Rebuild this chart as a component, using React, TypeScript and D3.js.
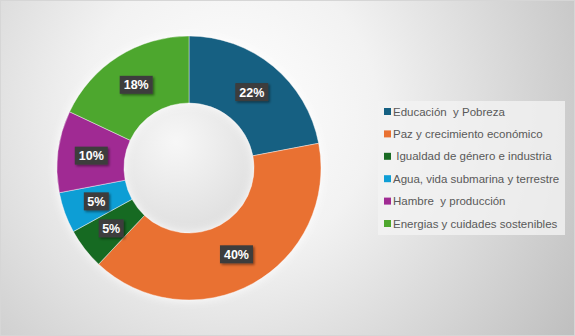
import React from 'react';
import * as d3 from 'd3';

const categories = [
  'Educación  y Pobreza',
  'Paz y crecimiento económico',
  ' Igualdad de género e industria',
  'Agua, vida submarina y terrestre',
  'Hambre  y producción',
  'Energias y cuidades sostenibles',
];
const values = [22, 40, 5, 5, 10, 18];
const colors = ['#156082', '#E97132', '#196B24', '#0F9ED5', '#A02B93', '#4EA72E'];

const W = 575;
const H = 336;
const cx = 189;
const cy = 168;
const outerR = 132;
const innerR = 65;

export default function App() {
  const pie = d3.pie<number>().sort(null).value(d => d);
  const arcs = pie(values);
  const arc = d3.arc<d3.PieArcDatum<number>>().innerRadius(innerR).outerRadius(outerR);
  const labelArc = d3.arc<d3.PieArcDatum<number>>()
    .innerRadius((innerR + outerR) / 2)
    .outerRadius((innerR + outerR) / 2);
  const total = d3.sum(values);
  const fmt = d3.format('.0%');

  const legendY = d3.scalePoint<number>()
    .domain(d3.range(categories.length))
    .range([111.5, 223.5]);

  return (
    <svg width={W} height={H} style={{ position: 'absolute', left: 0, top: 0 }}
      fontFamily="'Liberation Sans', Arial, sans-serif">
      <defs>
        <radialGradient id="bg" cx="230" cy="110" r="420" gradientUnits="userSpaceOnUse">
          <stop offset="0" stopColor="#ffffff" />
          <stop offset="0.35" stopColor="#f2f2f2" />
          <stop offset="1" stopColor="#bdbdbd" />
        </radialGradient>
        <radialGradient id="hole" cx="0.4" cy="0.3" r="0.8">
          <stop offset="0" stopColor="#f7f7f7" />
          <stop offset="1" stopColor="#dcdcdc" />
        </radialGradient>
        <filter id="shadow" x="-30%" y="-30%" width="160%" height="160%">
          <feDropShadow dx="1.5" dy="1.5" stdDeviation="1.2" floodColor="#000" floodOpacity="0.45" />
        </filter>
        <filter id="glow" x="-20%" y="-20%" width="140%" height="140%">
          <feDropShadow dx="0" dy="0" stdDeviation="5" floodColor="#fff" floodOpacity="0.9" />
        </filter>
      </defs>
      <rect x={0} y={0} width={W} height={H} fill="url(#bg)" />
      <rect x={0.5} y={0.5} width={W - 1} height={H - 1} fill="none" stroke="#d6d6d6" />

      <g transform={`translate(${cx},${cy})`}>
        <circle r={innerR} fill="url(#hole)" />
        <g filter="url(#glow)">
          {arcs.map((a, i) => (
            <path key={categories[i]} d={arc(a) || ''} fill={colors[i]} stroke="#ffffff" strokeWidth={0.4} />
          ))}
        </g>
        {arcs.map((a, i) => {
          const [lx, ly] = labelArc.centroid(a);
          const txt = fmt(a.data / total);
          const bw = txt.length > 2 ? 33 : 25;
          return (
            <g key={'l' + i} transform={`translate(${lx},${ly})`}>
              <rect x={-bw / 2} y={-9} width={bw} height={18} fill="#3d3d3d" filter="url(#shadow)" />
              <text textAnchor="middle" dy="0.36em" fill="#ffffff" fontSize={12.5} fontWeight="bold">{txt}</text>
            </g>
          );
        })}
      </g>

      <rect x={378} y={101} width={187} height={134} fill="#f2f2f2" opacity={0.8} />
      {categories.map((c, i) => (
        <g key={c} transform={`translate(384,${legendY(i)})`}>
          <rect x={0} y={-3.5} width={7} height={7} fill={colors[i]} />
          <text x={9} dy="0.35em" fontSize={11.5} fill="#595959" style={{ whiteSpace: 'pre' }}>{c}</text>
        </g>
      ))}
    </svg>
  );
}
